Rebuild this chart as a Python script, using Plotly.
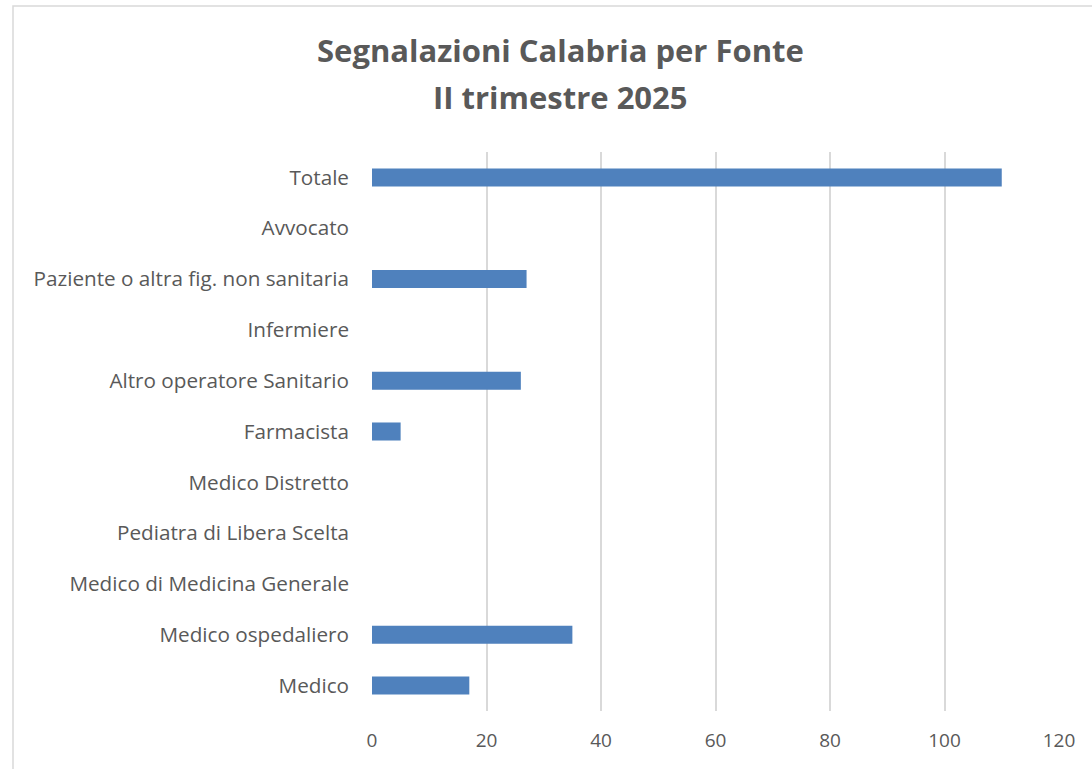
import plotly.graph_objects as go

categories = ["Medico", "Medico ospedaliero", "Medico di Medicina Generale",
              "Pediatra di Libera Scelta", "Medico Distretto", "Farmacista",
              "Altro operatore Sanitario", "Infermiere",
              "Paziente o altra fig. non sanitaria", "Avvocato", "Totale"]
values = [17, 35, 0, 0, 0, 5, 26, 0, 27, 0, 110]
x_ticks = [0, 20, 40, 60, 80, 100, 120]
title_lines = ["Segnalazioni Calabria per Fonte", "II trimestre 2025"]

W, H = 1092, 769
L, R, T, B = 372, 33, 152, 58
pw, ph = W - L - R, H - T - B

fig = go.Figure(go.Bar(
    y=categories, x=values, orientation="h",
    marker=dict(color="#4f81bd", line=dict(width=0)),
))

font = "Open Sans, Liberation Sans, sans-serif"
grey = "#595959"
fig.update_layout(
    width=W, height=H, autosize=False,
    margin=dict(l=L, r=R, t=T, b=B),
    paper_bgcolor="white", plot_bgcolor="white",
    bargap=0.645,
    showlegend=False,
    font=dict(family=font, size=20, color=grey),
    xaxis=dict(range=[0, 120], tickvals=x_ticks, showgrid=True,
               gridcolor="#d9d9d9", gridwidth=1.5, zeroline=False,
               showline=False, ticks="", ticklabelstandoff=16,
               tickfont=dict(size=19, color=grey)),
    yaxis=dict(categoryorder="array", categoryarray=categories,
               showgrid=False, zeroline=False, showline=False, ticks="",
               ticklabelstandoff=22,
               tickfont=dict(size=20.7, color=grey)),
    annotations=[
        dict(text="<b>%s</b>" % title_lines[0], xref="paper", yref="paper",
             x=(560 - L) / pw, y=(H - B - 50) / ph, xanchor="center", yanchor="middle",
             showarrow=False, font=dict(family=font, size=31, color=grey)),
        dict(text="<b>%s</b>" % title_lines[1], xref="paper", yref="paper",
             x=(560 - L) / pw, y=(H - B - 97) / ph, xanchor="center", yanchor="middle",
             showarrow=False, font=dict(family=font, size=31, color=grey)),
    ],
    shapes=[dict(type="rect", xref="paper", yref="paper",
                 x0=(13 - L) / pw, x1=(W + 5 - L) / pw,
                 y0=-(B + 10) / ph, y1=(H - B - 6) / ph,
                 line=dict(color="#d9d9d9", width=1.5), fillcolor="rgba(0,0,0,0)",
                 layer="below")],
)

fig.write_html("out.html", config={"displayModeBar": False},
               post_script="document.body.style.margin='0';document.body.style.overflow='hidden';")
